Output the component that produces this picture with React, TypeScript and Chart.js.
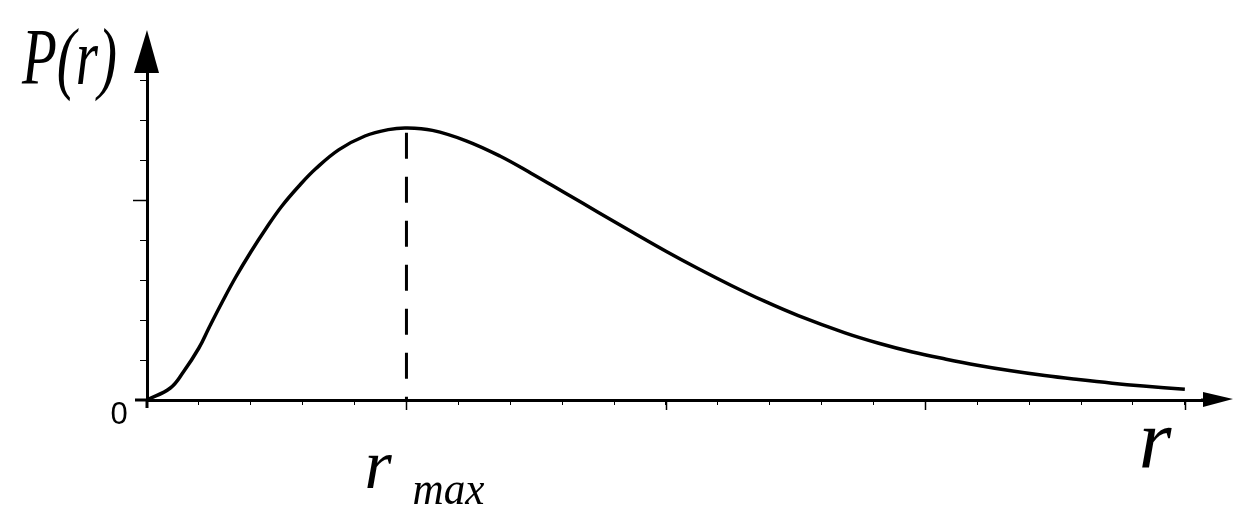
import React, { useEffect, useRef } from "react";
import { Chart, registerables } from "chart.js";

Chart.register(...registerables);

// ---- data ----
const rValues = [
  0, 0.45, 0.7, 1.0, 1.2, 1.45, 1.7, 2.0, 2.3, 2.6, 2.95, 3.25, 3.7, 4.2, 4.65, 5.0,
  5.5, 6.15, 6.8, 7.4, 8.05, 8.7, 9.35, 10.0, 10.6, 11.25, 11.9, 12.55, 13.45, 14.1,
  14.75, 15.4, 16.0, 16.65, 17.3, 17.95, 18.6, 19.2, 20.0,
];
const pValues = [
  0, 0.3, 0.7, 1.3, 1.82, 2.45, 3.05, 3.7, 4.3, 4.85, 5.38, 5.78, 6.26, 6.6, 6.76, 6.8,
  6.74, 6.48, 6.1, 5.67, 5.18, 4.69, 4.2, 3.72, 3.3, 2.87, 2.47, 2.11, 1.68, 1.42,
  1.2, 1.02, 0.87, 0.73, 0.61, 0.51, 0.42, 0.35, 0.27,
];
const rMax = 5;
const rMaxDashTop = 6.68;
const xMajorTicks = [5, 10, 15, 20];
const yMajorTicks = [5];
const xRange = [0, 20.35];
const yRange = [0, 8.175];

const originLabel = "0";
const yAxisLabel = "P(r)";
const xAxisLabel = "r";
const rMaxMain = "r";
const rMaxSub = "max";

const decorations = {
  id: "decorations",
  afterDraw(chart: any) {
    const { ctx, chartArea } = chart;
    const x = chart.scales.x;
    const y = chart.scales.y;
    const x0 = x.getPixelForValue(0);
    const y0 = y.getPixelForValue(0);
    const line = (a: number, b: number, c: number, d: number) => {
      ctx.beginPath();
      ctx.moveTo(a, b);
      ctx.lineTo(c, d);
      ctx.stroke();
    };
    ctx.save();
    ctx.strokeStyle = "#000";
    ctx.fillStyle = "#000";

    // longer major ticks
    ctx.lineWidth = 1.5;
    xMajorTicks.forEach((v) => {
      const px = Math.round(x.getPixelForValue(v)) + 0.5;
      line(px, y0, px, y0 + 10);
    });
    yMajorTicks.forEach((v) => {
      const py = Math.round(y.getPixelForValue(v)) + 0.5;
      line(x0 - 14, py, x0, py);
    });

    // axis extensions past origin
    ctx.lineWidth = 3;
    line(x0 - 12, y0, x0, y0);
    line(x0, y0, x0, y0 + 8);

    // arrow heads
    const top = chartArea.top;
    ctx.beginPath();
    ctx.moveTo(x0, top - 43);
    ctx.lineTo(x0 - 13, top);
    ctx.lineTo(x0 + 12, top);
    ctx.closePath();
    ctx.fill();
    const right = chartArea.right;
    line(right - 2, y0, right + 4, y0);
    ctx.beginPath();
    ctx.moveTo(right + 30, y0 - 1);
    ctx.lineTo(right, y0 - 8);
    ctx.lineTo(right, y0 + 7);
    ctx.closePath();
    ctx.fill();

    // texts
    ctx.font = '31px "Liberation Sans", Arial, sans-serif';
    ctx.textAlign = "center";
    ctx.textBaseline = "middle";
    ctx.fillText(originLabel, x0 - 28, y0 + 15);

    ctx.textAlign = "left";
    ctx.textBaseline = "alphabetic";
    ctx.font = 'italic 80px "Liberation Serif", serif';
    ctx.fillText(yAxisLabel, 22, 84, 95);

    const pr = x.getPixelForValue(rMax);
    ctx.font = 'italic 70px "Liberation Serif", serif';
    ctx.fillText(rMaxMain, pr - 42, y0 + 88, 36);
    ctx.font = 'italic 46px "Liberation Serif", serif';
    ctx.fillText(rMaxSub, pr + 6, y0 + 104, 72);

    const pe = x.getPixelForValue(20);
    ctx.font = 'italic 84px "Liberation Serif", serif';
    ctx.fillText(xAxisLabel, pe - 46, y0 + 68);

    ctx.restore();
  },
};

export default function App() {
  const ref = useRef<HTMLCanvasElement | null>(null);

  useEffect(() => {
    if (!ref.current) return;
    const curve = rValues.map((r, i) => ({ x: r, y: pValues[i] }));
    const dash = [
      { x: rMax, y: rMaxDashTop },
      { x: rMax, y: 0 },
    ];
    const chart = new Chart(ref.current, {
      type: "line",
      data: {
        datasets: [
          {
            data: curve,
            borderColor: "#000",
            borderWidth: 3.5,
            pointRadius: 0,
            tension: 0.4,
            fill: false,
          },
          {
            data: dash,
            borderColor: "#000",
            borderWidth: 3,
            borderDash: [26, 18],
            pointRadius: 0,
            fill: false,
          },
        ],
      },
      options: {
        animation: false,
        responsive: false,
        devicePixelRatio: 1,
        layout: { padding: { left: 0, right: 45, top: 73, bottom: 0 } },
        plugins: { legend: { display: false }, tooltip: { enabled: false } },
        scales: {
          x: {
            type: "linear",
            min: xRange[0],
            max: xRange[1],
            afterFit: (s: any) => {
              s.height = 120;
            },
            ticks: { display: false, stepSize: 1, includeBounds: false },
            grid: {
              drawOnChartArea: false,
              drawTicks: true,
              tickLength: 5,
              color: "#000",
              tickColor: "#000",
              lineWidth: 1,
            },
            border: { display: true, color: "#000", width: 3 },
          },
          y: {
            type: "linear",
            min: yRange[0],
            max: yRange[1],
            afterFit: (s: any) => {
              s.width = 147;
            },
            ticks: { display: false, stepSize: 1, includeBounds: false },
            grid: {
              drawOnChartArea: false,
              drawTicks: true,
              tickLength: 7,
              color: "#000",
              tickColor: "#000",
              lineWidth: 1,
            },
            border: { display: true, color: "#000", width: 3 },
          },
        },
      } as any,
      plugins: [decorations],
    });
    return () => chart.destroy();
  }, []);

  return (
    <div
      style={{
        position: "fixed",
        left: 0,
        top: 0,
        width: 1248,
        height: 520,
        background: "#fff",
      }}
    >
      <canvas ref={ref} width={1248} height={520} style={{ display: "block" }} />
    </div>
  );
}
